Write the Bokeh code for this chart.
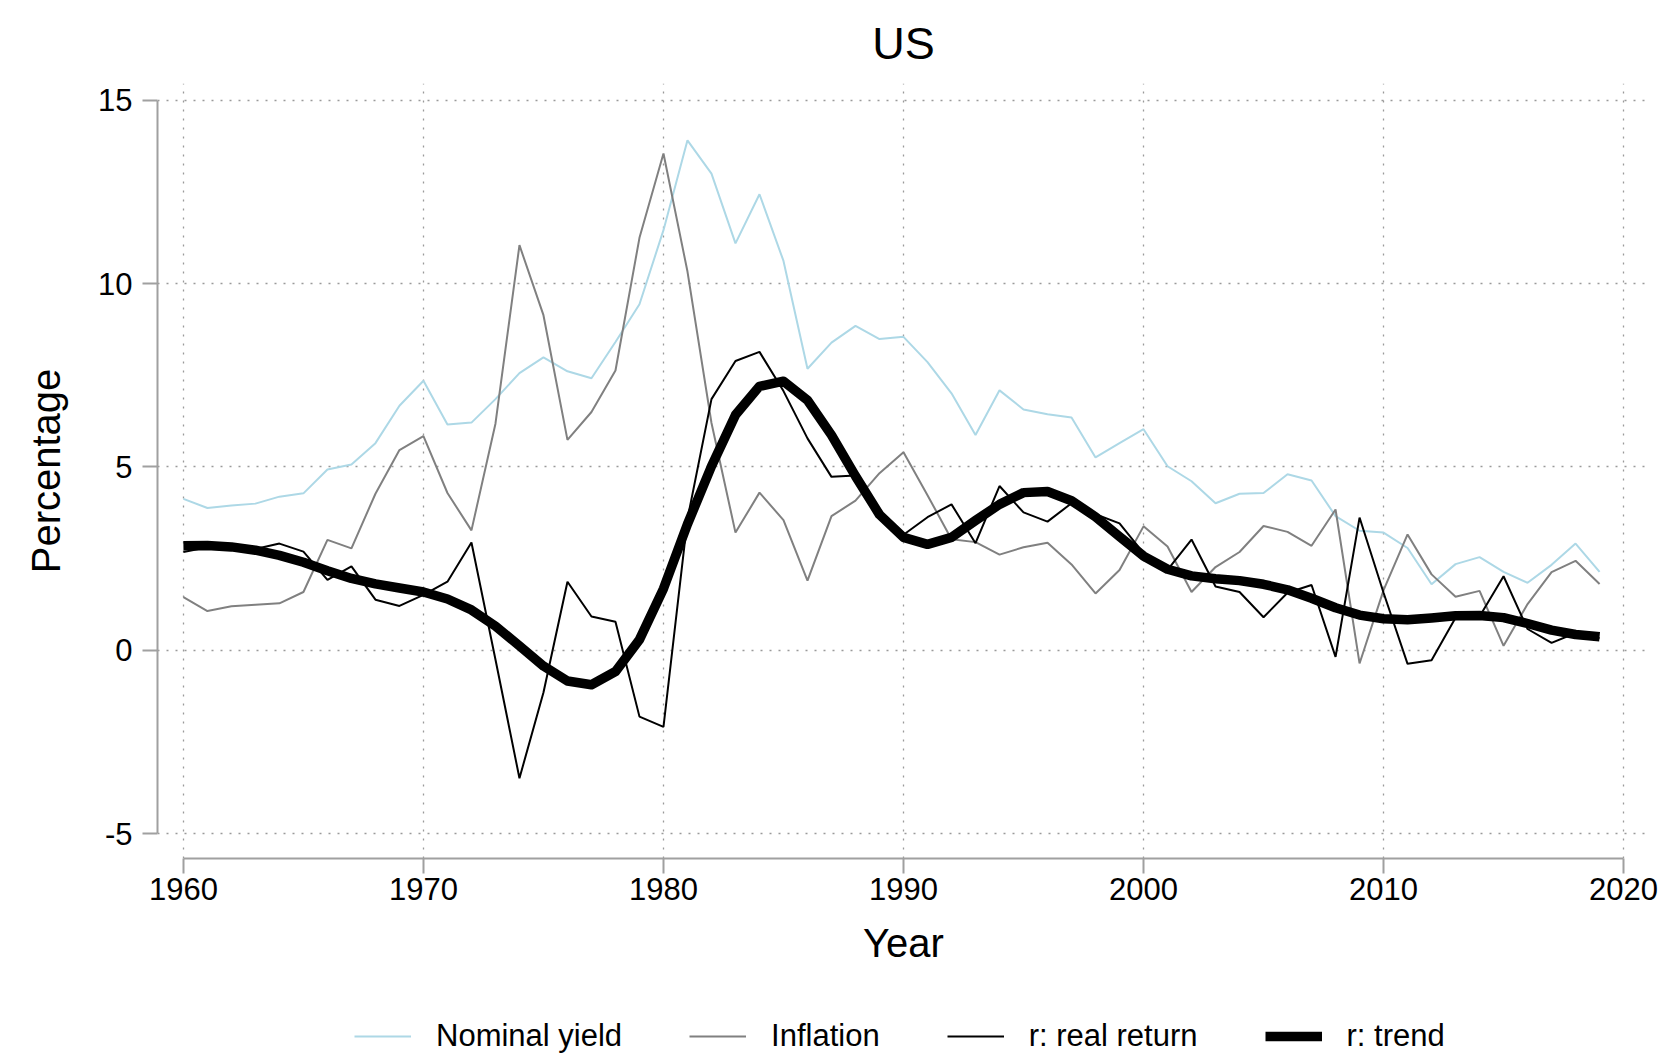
from bokeh.plotting import figure
from bokeh.layouts import column
from bokeh.models import Range1d, FixedTicker, Legend, LegendItem, PrintfTickFormatter
from bokeh.embed import file_html
from bokeh.resources import INLINE

years = list(range(1960, 2020))

nominal_yield = [
    4.13, 3.88, 3.95, 4.00, 4.19, 4.28, 4.93, 5.07, 5.65, 6.67,
    7.35, 6.16, 6.21, 6.85, 7.56, 7.99, 7.61, 7.42, 8.41, 9.44,
    11.46, 13.91, 13.00, 11.10, 12.44, 10.62, 7.68, 8.39, 8.85, 8.49,
    8.55, 7.86, 7.01, 5.87, 7.09, 6.57, 6.44, 6.35, 5.26, 5.65,
    6.03, 5.02, 4.61, 4.01, 4.27, 4.29, 4.80, 4.63, 3.66, 3.26,
    3.21, 2.79, 1.80, 2.35, 2.54, 2.14, 1.84, 2.33, 2.91, 2.14,
]

inflation = [
    1.45, 1.07, 1.20, 1.24, 1.28, 1.59, 3.01, 2.78, 4.27, 5.46,
    5.84, 4.29, 3.27, 6.18, 11.05, 9.14, 5.74, 6.50, 7.63, 11.25,
    13.55, 10.33, 6.20, 3.21, 4.30, 3.55, 1.90, 3.66, 4.08, 4.83,
    5.40, 4.23, 3.03, 2.95, 2.61, 2.81, 2.93, 2.34, 1.55, 2.19,
    3.38, 2.83, 1.59, 2.27, 2.68, 3.39, 3.23, 2.85, 3.84, -0.36,
    1.64, 3.16, 2.07, 1.46, 1.62, 0.12, 1.26, 2.13, 2.44, 1.81,
]

real_return = [
    2.68, 2.81, 2.75, 2.76, 2.91, 2.69, 1.92, 2.29, 1.38, 1.21,
    1.51, 1.87, 2.94, -0.25, -3.49, -1.15, 1.87, 0.92, 0.78, -1.81,
    -2.09, 3.58, 6.85, 7.89, 8.14, 7.07, 5.78, 4.73, 4.77, 3.66,
    3.15, 3.63, 3.98, 2.92, 4.48, 3.76, 3.51, 4.01, 3.71, 3.46,
    2.65, 2.19, 3.02, 1.74, 1.59, 0.90, 1.57, 1.78, -0.18, 3.62,
    1.57, -0.37, -0.27, 0.89, 0.92, 2.02, 0.58, 0.20, 0.47, 0.33,
]

trend = [
    2.85, 2.86, 2.82, 2.73, 2.59, 2.40, 2.17, 1.96, 1.81, 1.70,
    1.59, 1.40, 1.10, 0.66, 0.12, -0.43, -0.84, -0.94, -0.58, 0.29,
    1.68, 3.44, 5.02, 6.42, 7.20, 7.34, 6.82, 5.87, 4.75, 3.70,
    3.08, 2.89, 3.08, 3.54, 3.98, 4.30, 4.33, 4.08, 3.64, 3.10,
    2.57, 2.21, 2.03, 1.95, 1.90, 1.80, 1.65, 1.42, 1.16, 0.96,
    0.86, 0.83, 0.88, 0.94, 0.95, 0.89, 0.73, 0.55, 0.43, 0.37,
]

series_labels = ["Nominal yield", "Inflation", "r: real return", "r: trend"]

x_ticks = [1960, 1970, 1980, 1990, 2000, 2010, 2020]
y_ticks = [-5, 0, 5, 10, 15]

FONT = "Liberation Sans"
AXIS_GRAY = "#a0a0a0"
styles = [
    dict(line_color="#add8e6", line_width=2),
    dict(line_color="#808080", line_width=2),
    dict(line_color="black", line_width=2),
    dict(line_color="black", line_width=9.5, line_join="round"),
]
all_series = [nominal_yield, inflation, real_return, trend]

# ---------------- main chart ----------------
p = figure(
    width=1666, height=985,
    x_range=Range1d(1958.92, 2021.08),
    y_range=Range1d(-5.68, 15.46),
    output_backend="svg", toolbar_location=None,
    min_border_left=157, min_border_right=17,
    min_border_top=81, min_border_bottom=127,
    title="US",
)
p.outline_line_color = None
p.background_fill_color = "white"
p.border_fill_color = "white"

p.title.align = "center"
p.title.text_font = FONT
p.title.text_font_size = "45px"
p.title.text_font_style = "normal"
p.title.text_color = "black"
p.title.standoff = 30

for ax, ticks in ((p.xaxis[0], x_ticks), (p.yaxis[0], y_ticks)):
    ax.ticker = FixedTicker(ticks=ticks)
    ax.formatter = PrintfTickFormatter(format="%d")
    ax.axis_line_color = AXIS_GRAY
    ax.axis_line_width = 2
    ax.major_tick_line_color = AXIS_GRAY
    ax.major_tick_line_width = 2
    ax.major_tick_out = 15
    ax.major_tick_in = 0
    ax.minor_tick_line_color = None
    ax.major_label_text_font = FONT
    ax.major_label_text_font_size = "31px"
    ax.major_label_text_color = "black"
    ax.axis_label_text_font = FONT
    ax.axis_label_text_font_size = "40px"
    ax.axis_label_text_font_style = "normal"
    ax.axis_label_text_color = "black"

p.xaxis[0].bounds = (1960, 2020)
p.yaxis[0].bounds = (-5, 15)
p.xaxis[0].axis_label = "Year"
p.yaxis[0].axis_label = "Percentage"
p.xaxis[0].major_label_standoff = 4
p.xaxis[0].axis_label_standoff = 18
p.yaxis[0].major_label_standoff = 10
p.yaxis[0].axis_label_standoff = 27

for g, ticks in ((p.xgrid[0], x_ticks), (p.ygrid[0], y_ticks)):
    g.ticker = FixedTicker(ticks=ticks)
    g.grid_line_color = "#9a9a9a"
    g.grid_line_width = 1.3
    g.grid_line_dash = "2 7"

for ys, st in zip(all_series, styles):
    p.line(years, ys, **st)

# ---------------- legend strip ----------------
q = figure(
    width=1666, height=72,
    x_axis_type=None, y_axis_type=None,
    output_backend="svg", toolbar_location=None,
    min_border_left=0, min_border_right=0,
    min_border_top=0, min_border_bottom=0,
)
q.outline_line_color = None
q.background_fill_color = "white"
q.border_fill_color = "white"

items = []
for lab, ys, st in zip(series_labels, all_series, styles):
    rr = q.line(years, ys, visible=False, **st)
    items.append(LegendItem(label=lab, renderers=[rr]))

legend = Legend(
    items=items,
    orientation="horizontal",
    location=(197, 3),
    padding=0, margin=0,
    spacing=67, label_standoff=25,
    glyph_width=57, glyph_height=30, label_height=30,
    label_text_font=FONT, label_text_font_size="31px",
    label_text_color="black",
    border_line_color=None, background_fill_alpha=0,
)
q.add_layout(legend, "center")

open("out.html", "w").write(file_html(column(p, q), INLINE))
